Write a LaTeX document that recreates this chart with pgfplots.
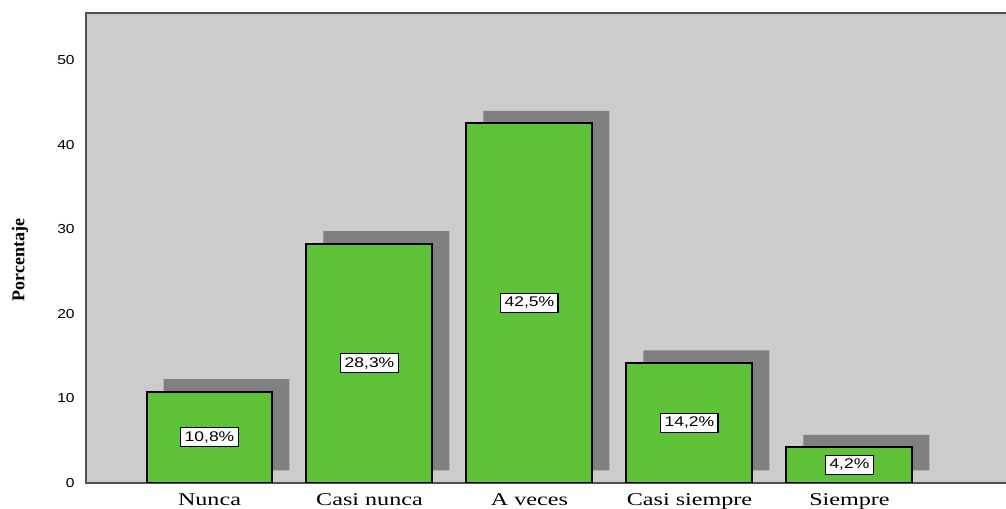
\documentclass[border=0pt]{standalone}
\usepackage{fontspec}
\setmainfont{Liberation Serif}
\newfontfamily\arialf{Liberation Sans}
\usepackage{graphicx}
\usepackage{pgfplots}
\pgfplotsset{compat=1.18}
\definecolor{bgc}{RGB}{204,204,204}
\definecolor{shc}{RGB}{128,128,128}
\definecolor{barc}{RGB}{94,194,56}
\definecolor{axc}{RGB}{80,80,80}
\newcommand\ylab[1]{\scalebox{1.2}[1]{\arialf\fontsize{9.75}{11}\selectfont #1}}
\newcommand\xlab[1]{\scalebox{1.34}[1]{#1}}
\begin{document}
\begin{tikzpicture}
\useasboundingbox (0,0) rectangle (754.5pt,381.75pt);
\clip (0,0) rectangle (754.5pt,381.75pt);
\pgfplotsset{base/.style={scale only axis, width=700.5pt, height=352.5pt,
  xmin=-0.7719, xmax=5.066, ymin=0, ymax=55.556, anchor=south west}}
% background
\begin{axis}[base, at={(64.5pt,19.5pt)}, axis background/.style={fill=bgc},
  axis line style={draw=none}, xtick=\empty, ytick=\empty]
\addplot[draw=none] coordinates {(0,0)};
\end{axis}
% shadows
\begin{axis}[base, at={(77.25pt,28.875pt)}, hide axis]
\addplot[ybar, bar width=0.7875, bar shift=0pt, fill=shc, draw=none]
  coordinates {(0,10.8) (1,28.3) (2,42.5) (3,14.2) (4,4.2)};
\end{axis}
% main
\begin{axis}[base, at={(64.5pt,19.5pt)},
  axis line style={draw=axc, line width=1.2pt},
  major tick length=0pt,
  xtick={0,1,2,3,4},
  xticklabels={\xlab{Nunca},\xlab{Casi nunca},\xlab{A veces},\xlab{Casi siempre},\xlab{Siempre}},
  xticklabel style={font=\fontsize{13.5}{15}\selectfont, yshift=-4.5pt},
  ytick={0,10,20,30,40,50},
  yticklabels={\ylab{0},\ylab{10},\ylab{20},\ylab{30},\ylab{40},\ylab{50}},
  yticklabel style={xshift=-5pt},
  ylabel={\textbf{Porcentaje}},
  every axis y label/.style={at={(axis description cs:-0.0707,0.474)}, rotate=90, anchor=center,
    font=\fontsize{13.5}{15}\selectfont},
]
\addplot[ybar, bar width=0.7875, bar shift=0pt, fill=barc, draw=black, line width=1.5pt]
  coordinates {(0,10.8) (1,28.3) (2,42.5) (3,14.2) (4,4.2)};
\addplot[draw=none, mark=none, nodes near coords={\scalebox{1.25}[1]{\pgfplotspointmeta}},
  point meta=explicit symbolic,
  every node near coord/.append style={anchor=center, fill=white, draw=black, line width=0.8pt,
    font=\arialf\fontsize{10.5}{12}\selectfont, inner xsep=2.8pt, inner ysep=0pt,
    minimum height=14.25pt, text height=7.6pt, text depth=2pt}]
  coordinates {(0,5.4) [10,8\%] (1,14.15) [28,3\%] (2,21.25) [42,5\%] (3,7.1) [14,2\%] (4,2.1) [4,2\%]};
\end{axis}
\end{tikzpicture}
\end{document}
